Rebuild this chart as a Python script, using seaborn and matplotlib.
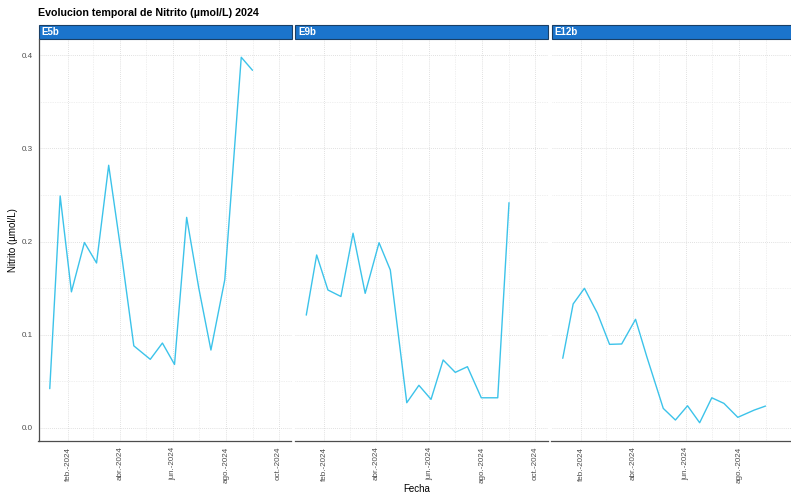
import matplotlib
matplotlib.use("Agg")
import matplotlib.pyplot as plt
from matplotlib.patches import Rectangle
import pandas as pd
import seaborn as sns

# Sampling dates (shared by the three stations)
fechas = ["2024-01-11", "2024-01-23", "2024-02-05", "2024-02-20", "2024-03-05",
          "2024-03-19", "2024-04-04", "2024-04-17", "2024-05-06", "2024-05-20",
          "2024-06-03", "2024-06-17", "2024-07-01", "2024-07-15", "2024-07-31",
          "2024-08-19", "2024-09-01"]

estaciones = ["E5b", "E9b", "E12b"]

nitrito_e5b = [0.042, 0.249, 0.146, 0.199, 0.177, 0.282, 0.178, 0.088, 0.0735,
               0.091, 0.068, 0.226, 0.150, 0.0835, 0.159, 0.398, 0.384]
nitrito_e9b = [0.121, 0.1856, 0.148, 0.141, 0.209, 0.1444, 0.1988, 0.1695, 0.0269,
               0.0456, 0.0305, 0.0728, 0.0595, 0.0656, 0.0322, 0.0322, 0.2418]
nitrito_e12b = [0.0746, 0.133, 0.1498, 0.123, 0.0896, 0.090, 0.1165, 0.0763, 0.0208,
                0.0083, 0.0236, 0.0054, 0.0322, 0.0262, 0.0112, 0.019, 0.0233]

tick_fechas = ["2024-02-01", "2024-04-01", "2024-06-01", "2024-08-01", "2024-10-01"]
tick_labels = ["feb.-2024", "abr.-2024", "jun.-2024", "ago.-2024", "oct.-2024"]
minor_fechas = ["2024-03-01", "2024-05-01", "2024-07-01", "2024-09-01"]
y_ticks = [0.0, 0.1, 0.2, 0.3, 0.4]
y_minor = [0.05, 0.15, 0.25, 0.35]

df = pd.DataFrame({
    "Fecha": pd.to_datetime(fechas * 3),
    "Nitrito": nitrito_e5b + nitrito_e9b + nitrito_e12b,
    "Estacion": sum([[e] * len(fechas) for e in estaciones], []),
})

sns.set_style("white")
plt.rcParams["font.family"] = ["Liberation Sans", "DejaVu Sans"]

W, H = 791, 495
fig = plt.figure(figsize=(W / 100, H / 100), dpi=100)

line_color = "#3cc3ea"
strip_color = "#1b74cc"
axis_color = "#4d4d4d"
grid_color = "#e2e2e2"

top_px, bot_px = 39, 441
panel_w_px = 253
lefts_px = [38.5, 295, 551.5]

# shared scales with a 5% margin on y
ymin, ymax = min(df["Nitrito"]), max(df["Nitrito"])
pad = 0.05 * (ymax - ymin)
xlim = (pd.Timestamp("2023-12-29"), pd.Timestamp("2024-10-16"))

strip_h = 14 / (bot_px - top_px)

for i, est in enumerate(estaciones):
    ax = fig.add_axes([lefts_px[i] / W, 1 - bot_px / H,
                       panel_w_px / W, (bot_px - top_px) / H])
    sub = df[df["Estacion"] == est]
    sns.lineplot(data=sub, x="Fecha", y="Nitrito", color=line_color,
                 linewidth=1.0, ax=ax)
    ax.set_xlim(*xlim)
    ax.set_ylim(ymin - pad, ymax + pad)

    # date ticks
    n_ticks = len(tick_fechas) if i < 2 else len(tick_fechas) - 1
    ax.set_xticks(pd.to_datetime(tick_fechas[:n_ticks]))
    ax.set_xticklabels(tick_labels[:n_ticks], rotation=90, fontsize=5.8,
                       color=axis_color, va="top")
    ax.set_xticks(pd.to_datetime(minor_fechas), minor=True)
    ax.set_yticks(y_ticks)
    ax.set_yticks(y_minor, minor=True)
    if i == 0:
        ax.set_yticklabels([f"{v:.1f}" for v in y_ticks], fontsize=5.8,
                           color=axis_color)
        ax.tick_params(axis="y", which="major", length=2.5, width=0.5,
                       color=axis_color, pad=1.5)
    else:
        ax.set_yticklabels([])
        ax.tick_params(axis="y", which="major", length=0)
    ax.tick_params(axis="x", which="major", length=2.5, width=0.5,
                   color=axis_color, pad=1.5)
    ax.tick_params(which="minor", length=0)

    # dotted major and minor grid
    ax.grid(True, which="major", linestyle=(0, (1, 1.5)), linewidth=0.6,
            color="#d6d6d6")
    ax.grid(True, which="minor", linestyle=(0, (1, 1.5)), linewidth=0.5,
            color=grid_color)
    ax.set_axisbelow(True)

    for side in ("top", "right"):
        ax.spines[side].set_visible(False)
    ax.spines["left"].set_visible(i == 0)
    for side in ("left", "bottom"):
        ax.spines[side].set_color(axis_color)
        ax.spines[side].set_linewidth(0.9)

    ax.set_xlabel("")
    ax.set_ylabel("")

    # facet strip
    ax.add_patch(Rectangle((0, 1), 1, strip_h, transform=ax.transAxes,
                           facecolor=strip_color, edgecolor="#1a3f66",
                           linewidth=0.8, clip_on=False))
    ax.text(0.012, 1 + strip_h / 2, est, transform=ax.transAxes,
            ha="left", va="center", color="white", fontsize=7,
            fontweight="bold")

fig.text(38.5 / W, 1 - 13 / H, "Evolucion temporal de Nitrito (µmol/L) 2024",
         ha="left", va="center", fontsize=7.7, fontweight="bold", color="black")
fig.text(417 / W, 1 - 489 / H, "Fecha", ha="center", va="center",
         fontsize=7, color="black")
fig.text(13 / W, 1 - 240 / H, "Nitrito (µmol/L)", ha="center", va="center",
         rotation=90, fontsize=7, color="black")

fig.savefig("out.png", dpi=100, facecolor="white")
